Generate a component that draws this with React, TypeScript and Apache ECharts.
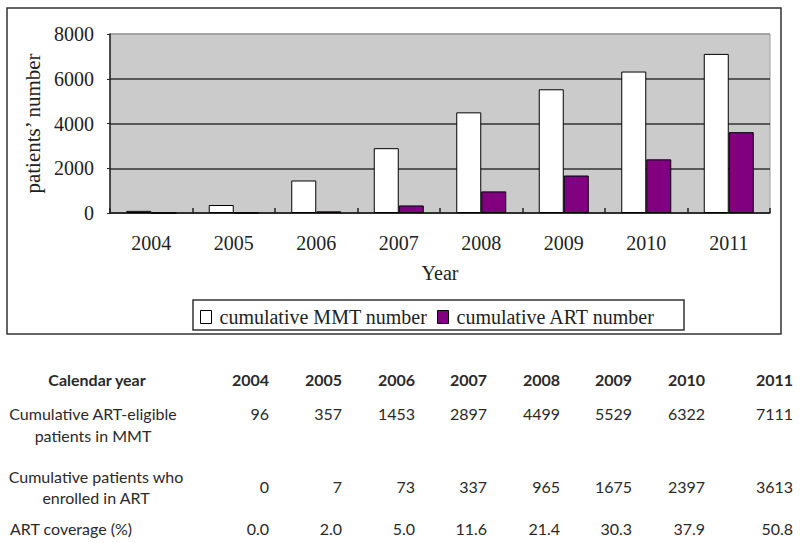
import React, { useEffect, useRef } from "react";
import * as echarts from "echarts";

const years = ["2004", "2005", "2006", "2007", "2008", "2009", "2010", "2011"];
const mmtCumulative = [96, 357, 1453, 2897, 4499, 5529, 6322, 7111];
const artCumulative = [0, 7, 73, 337, 965, 1675, 2397, 3613];
const artCoverage = ["0.0", "2.0", "5.0", "11.6", "21.4", "30.3", "37.9", "50.8"];
const yTicks = { min: 0, max: 8000, interval: 2000 };
const seriesNames = ["cumulative MMT number", "cumulative ART number"];
const rowLabels = [
  ["Calendar year"],
  ["Cumulative ART-eligible", "patients in MMT"],
  ["Cumulative patients who", "enrolled in ART"],
  ["ART coverage (%)"],
];

const SERIF = "'Liberation Serif', 'DejaVu Serif', serif";
const SANS = "Lato, 'Open Sans', sans-serif";

export default function App() {
  const ref = useRef<HTMLDivElement>(null);
  useEffect(() => {
    if (!ref.current) return;
    const chart = echarts.init(ref.current, null, { renderer: "svg" });

    const colRight = [269, 342, 415, 487, 560, 632, 705, 793];
    const tableTexts: any[] = [];
    const txt = (s: string, x: number, y: number, align: string, bold = false) => ({
      type: "text",
      x,
      y,
      style: {
        text: s,
        fill: "#2a2a2a",
        font: `${bold ? "bold " : ""}16px ${SANS}`,
        textAlign: align,
        textVerticalAlign: "middle",
      },
      silent: true,
    });
    tableTexts.push(txt(rowLabels[0][0], 97, 379, "center", true));
    years.forEach((y, i) => tableTexts.push(txt(y, colRight[i], 379, "right", true)));
    tableTexts.push(txt(rowLabels[1][0], 93, 413, "center"));
    tableTexts.push(txt(rowLabels[1][1], 93, 435, "center"));
    mmtCumulative.forEach((v, i) => tableTexts.push(txt(String(v), colRight[i], 413, "right")));
    tableTexts.push(txt(rowLabels[2][0], 96, 476, "center"));
    tableTexts.push(txt(rowLabels[2][1], 96, 497, "center"));
    artCumulative.forEach((v, i) => tableTexts.push(txt(String(v), colRight[i], 486, "right")));
    tableTexts.push(txt(rowLabels[3][0], 10, 528, "left"));
    artCoverage.forEach((v, i) => tableTexts.push(txt(v, colRight[i], 528, "right")));

    const legendBase = {
      top: 307,
      icon: "rect",
      itemWidth: 11,
      itemHeight: 13,
      itemGap: 0,
      itemStyle: { borderColor: "#000", borderWidth: 1 },
      textStyle: { fontFamily: SERIF, fontSize: 20, color: "#222", padding: [0, 0, 0, 3] },
      selectedMode: false,
      padding: 0,
    };

    chart.setOption({
      animation: false,
      backgroundColor: "#ffffff",
      grid: {
        left: 110,
        right: 30,
        top: 34,
        bottom: 330,
        show: true,
        backgroundColor: "#cbcbcb",
        borderColor: "#9a9a9a",
        borderWidth: 1,
        containLabel: false,
      },
      legend: [
        { ...legendBase, data: [seriesNames[0]], left: 200 },
        { ...legendBase, data: [seriesNames[1]], left: 437 },
      ],
      xAxis: {
        type: "category",
        data: years,
        name: "Year",
        nameLocation: "middle",
        nameGap: 50,
        nameTextStyle: { fontFamily: SERIF, fontSize: 20, color: "#222" },
        axisLine: { show: true, lineStyle: { color: "#222", width: 1.5 } },
        axisTick: { show: true, inside: true, length: 5, alignWithLabel: false, lineStyle: { color: "#222", width: 1.5 } },
        axisLabel: { fontFamily: SERIF, fontSize: 20, color: "#222", margin: 20 },
        splitLine: { show: false },
      },
      yAxis: {
        type: "value",
        min: yTicks.min,
        max: yTicks.max,
        interval: yTicks.interval,
        name: "patients\u2019 number",
        nameLocation: "middle",
        nameGap: 66,
        nameTextStyle: { fontFamily: SERIF, fontSize: 21, color: "#222" },
        axisLine: { show: true, lineStyle: { color: "#222", width: 1.5 } },
        axisTick: { show: true, inside: false, length: 3, lineStyle: { color: "#222", width: 1 } },
        axisLabel: {
          fontFamily: SERIF,
          fontSize: 20,
          color: "#222",
          margin: 16,
          formatter: (v: number) => String(v),
        },
        splitLine: {
          show: true,
          lineStyle: { color: ["#333", "#333", "#333", "#333", "#9a9a9a"], width: 1.5 },
        },
      },
      series: [
        {
          name: seriesNames[0],
          type: "bar",
          data: mmtCumulative,
          barWidth: 25,
          barGap: "0%",
          itemStyle: { color: "#ffffff", borderColor: "#000", borderWidth: 1 },
        },
        {
          name: seriesNames[1],
          type: "bar",
          data: artCumulative,
          barWidth: 25,
          barGap: "0%",
          itemStyle: { color: "#800080", borderColor: "#000", borderWidth: 1 },
        },
      ],
      graphic: [
        {
          type: "rect",
          shape: { x: 7, y: 8, width: 774, height: 326 },
          style: { fill: "none", stroke: "#333", lineWidth: 1.5 },
          silent: true,
          z: 0,
        },
        {
          type: "rect",
          shape: { x: 193, y: 300, width: 491, height: 30 },
          style: { fill: "none", stroke: "#333", lineWidth: 1.5 },
          silent: true,
        },
        ...tableTexts,
      ],
    });
    return () => chart.dispose();
  }, []);
  return (
    <div
      ref={ref}
      style={{ position: "absolute", left: 0, top: 0, width: 800, height: 543 }}
    />
  );
}
